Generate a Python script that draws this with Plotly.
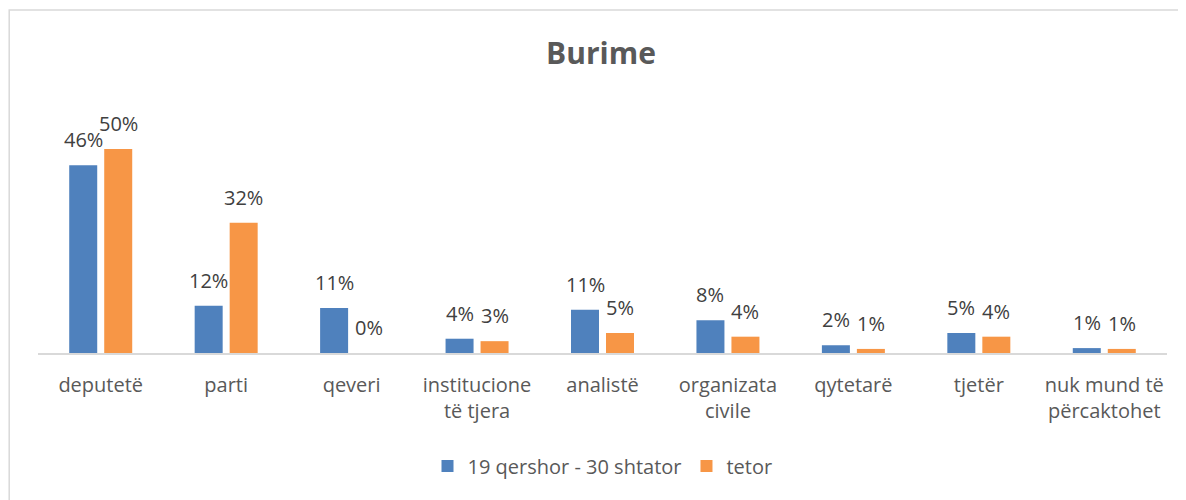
import plotly.graph_objects as go

categories = ["deputetë", "parti", "qeveri", "institucione<br>të tjera", "analistë",
              "organizata<br>civile", "qytetarë", "tjetër", "nuk mund të<br>përcaktohet"]
series_names = ["19 qershor - 30 shtator", "tetor"]
values_period1 = [46, 11.6, 11.0, 3.5, 10.6, 8.0, 1.9, 4.9, 1.2]
values_tetor = [50, 31.9, 0, 2.9, 4.9, 4.0, 1.0, 4.0, 1.0]
labels_period1 = ["46%", "12%", "11%", "4%", "11%", "8%", "2%", "5%", "1%"]
labels_tetor = ["50%", "32%", "0%", "3%", "5%", "4%", "1%", "4%", "1%"]
colors = ["#4F81BD", "#F79646"]

FONT = "Open Sans"
fig = go.Figure()
for name, vals, col in zip(series_names, [values_period1, values_tetor], colors):
    fig.add_trace(go.Bar(
        x=categories, y=vals, name=name,
        marker=dict(color=col, line=dict(width=0)),
        hoverinfo="x+y",
    ))

annotations = []
for k, (vals, labs) in enumerate([(values_period1, labels_period1), (values_tetor, labels_tetor)]):
    shift = -17.5 if k == 0 else 17.5
    for c, v, t in zip(categories, vals, labs):
        annotations.append(dict(
            x=c, y=v, xref="x", yref="y", text=t,
            showarrow=False, xshift=shift, yshift=10, yanchor="bottom",
            font=dict(family=FONT, size=20, color="#404040"),
        ))

fig.update_layout(
    width=1186, height=500,
    margin=dict(l=30, r=27, t=92, b=155),
    paper_bgcolor="white", plot_bgcolor="white",
    title=dict(text="<b>Burime</b>", x=0.5, xanchor="center", y=0.91, yanchor="middle",
               font=dict(family=FONT, size=30, color="#595959")),
    barmode="group", bargap=0.442, bargroupgap=0.2,
    xaxis=dict(showgrid=False, showline=True, linecolor="#D9D9D9", linewidth=1.5,
               ticks="", tickfont=dict(family=FONT, size=20, color="#595959"),
               ticklabelstandoff=13, fixedrange=True),
    yaxis=dict(range=[0, 62.0], visible=False, showgrid=False, zeroline=False, fixedrange=True),
    legend=dict(orientation="h", x=0.5, xanchor="center", y=-0.447, yanchor="middle",
                font=dict(family=FONT, size=20, color="#595959"), itemwidth=30,
                traceorder="normal"),
    annotations=annotations,
    shapes=[dict(type="rect", xref="paper", yref="paper", x0=-0.0255, x1=1.2,
                 y0=-1.0, y1=1.356, line=dict(color="#D9D9D9", width=1.5),
                 fillcolor="rgba(0,0,0,0)", layer="below")],
)

fig.write_html("out.html")
